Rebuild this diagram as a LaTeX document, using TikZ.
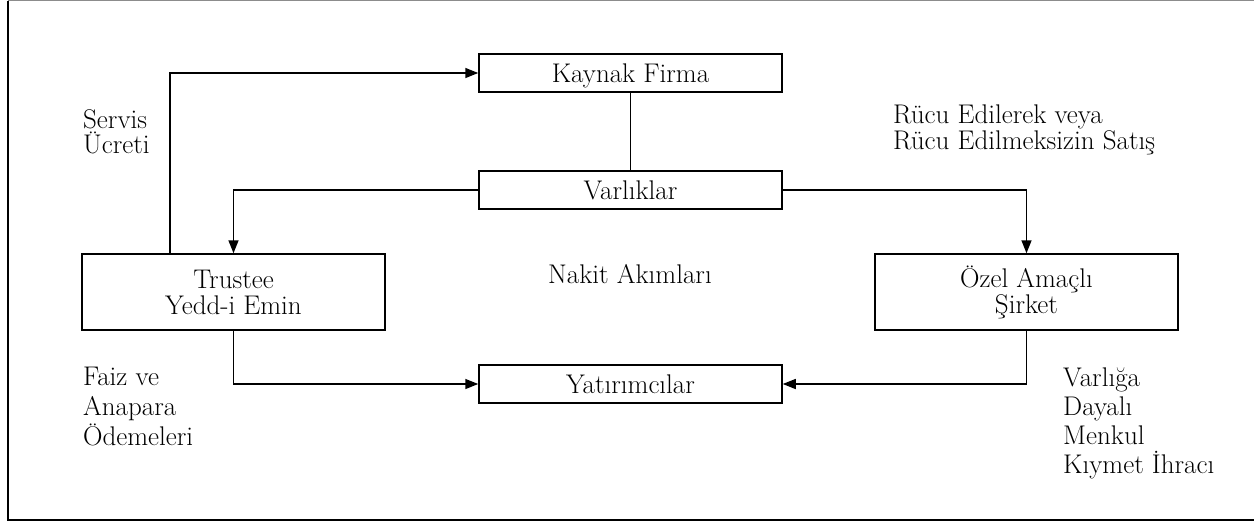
\documentclass[tikz,border=0pt]{standalone}
\usepackage{fontspec}
\usetikzlibrary{arrows.meta,positioning}

\begin{document}
\begin{tikzpicture}[x=1pt,y=-1pt,
  kutu/.style={draw,line width=1.5pt,minimum width=303pt,minimum height=38pt,inner sep=0pt,align=center,font=\fontsize{27}{26}\selectfont},
  tekkutu/.style={kutu,text height=21pt,text depth=3pt},
  etiket/.style={inner sep=0pt,anchor=base west,align=left,font=\fontsize{27}{29}\selectfont},
  ok/.style={-{Triangle[length=13pt,width=10pt]},line width=1.5pt}]
\useasboundingbox (0,0) rectangle (1254,523);
\draw[line width=1.2pt,black!45] (1254,0.6) -- (8,0.6);
\draw[line width=1.5pt] (8,0.6) -- (8,520) -- (1254,520);
% kutular
\node[tekkutu] (kaynak) at (630.5,73) {Kaynak Firma};
\node[tekkutu] (varlik) at (630.5,190) {Varlıklar};
\node[kutu,minimum height=76pt] (trustee) at (233.5,292) {Trustee\\Yedd-i Emin};
\node[kutu,minimum height=76pt] (ozel) at (1026.5,292) {Özel Amaçlı\\Şirket};
\node[tekkutu] (yatirimci) at (630.5,384) {Yatırımcılar};
% etiketler (base = son satir)
\node[etiket,font=\fontsize{27}{25}\selectfont] (servis) at (83,153) {Servis\\Ücreti};
\node[etiket,font=\fontsize{27}{24}\selectfont] (rucu) at (893,149) {Rücu Edilerek veya\\Rücu Edilmeksizin Satış};
\node[etiket,anchor=base] (nakit) at (630,283) {Nakit Akımları};
\node[etiket,font=\fontsize{27}{30}\selectfont] (faiz) at (83,445) {Faiz ve\\Anapara\\Ödemeleri};
\node[etiket] (ihrac) at (1063,473) {Varlığa\\Dayalı\\Menkul\\Kıymet İhracı};
% oklar
\draw[ok] ([xshift=-63.5pt]trustee.north) |- (kaynak.west);
\draw[line width=1.5pt] (kaynak) -- (varlik);
\draw[ok] (varlik.west) -| (trustee.north);
\draw[ok] (varlik.east) -| (ozel.north);
\draw[ok] (trustee.south) |- (yatirimci.west);
\draw[ok] (ozel.south) |- (yatirimci.east);
\end{tikzpicture}
\end{document}
